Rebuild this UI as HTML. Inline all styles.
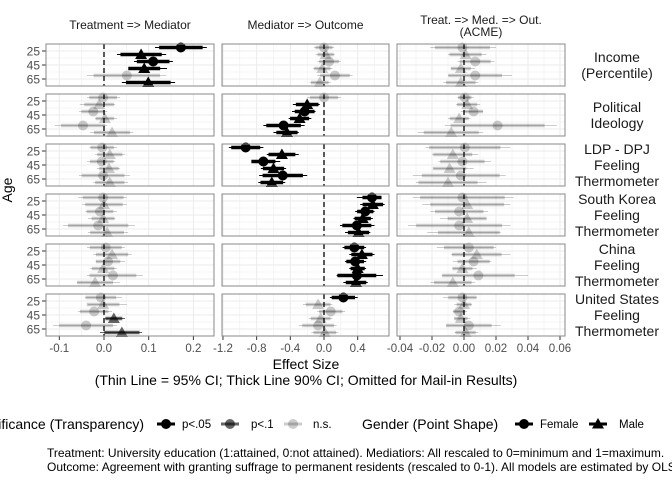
<!DOCTYPE html>
<html><head><meta charset="utf-8"><style>
body{margin:0;background:#fff;}
svg{display:block;font-family:"Liberation Sans",sans-serif;}
</style></head><body>
<svg id="chart" width="672" height="480" viewBox="0 0 672 480">
<text x="306" y="369" font-size="14" text-anchor="middle">Effect Size</text>
<text x="306" y="385" font-size="14" text-anchor="middle">(Thin Line = 95% CI; Thick Line 90% CI; Omitted for Mail-in Results)</text>
<g id="panels"></g>
<text x="12" y="190" font-size="14" text-anchor="middle" transform="rotate(-90 12 190)">Age</text>
<g font-size="11.5">
<text x="144" y="429" font-size="14" text-anchor="end">Significance (Transparency)</text>
<g><line x1="157" x2="175" y1="424" y2="424" stroke="#000" stroke-width="3"/><circle cx="166" cy="424" r="5" fill="#000"/><text x="182" y="428">p&lt;.05</text></g>
<g><line x1="221" x2="239" y1="424" y2="424" stroke="#000" stroke-opacity="0.6" stroke-width="3"/><circle cx="230" cy="424" r="5" fill="#000" fill-opacity="0.6"/><text x="251" y="428">p&lt;.1</text></g>
<g><line x1="284" x2="302" y1="424" y2="424" stroke="#000" stroke-opacity="0.2" stroke-width="3"/><circle cx="293" cy="424" r="5" fill="#000" fill-opacity="0.2"/><text x="313" y="428">n.s.</text></g>
<text x="362" y="429" font-size="14">Gender (Point Shape)</text>
<g><line x1="515" x2="533" y1="424" y2="424" stroke="#000" stroke-width="3"/><circle cx="524" cy="424" r="5" fill="#000"/><text x="540" y="428">Female</text></g>
<g><line x1="589" x2="607" y1="424" y2="424" stroke="#000" stroke-width="3"/><polygon points="598,418 604,428.5 592,428.5" fill="#000"/><text x="619" y="428">Male</text></g>
</g>
<text x="47" y="457" font-size="12">Treatment: University education (1:attained, 0:not attained). Mediatiors: All rescaled to 0=minimum and 1=maximum.</text>
<text x="47" y="471" font-size="12">Outcome: Agreement with granting suffrage to permanent residents (rescaled to 0-1). All models are estimated by OLS.</text>
</svg>
<script>
const colTitles=[["Treatment => Mediator"],["Mediator => Outcome"],["Treat. => Med. => Out.","(ACME)"]];
const rowTitles=[["Income","(Percentile)"],["Political","Ideology"],["LDP - DPJ","Feeling","Thermometer"],["South Korea","Feeling","Thermometer"],["China","Feeling","Thermometer"],["United States","Feeling","Thermometer"]];
const ageTicks=["25","45","65"];
// order per row: F25, M25, F45, M45, F65, M65
const genders=["F","M","F","M","F","M"];
const ages=[25,25,45,45,65,65];
const tickVals1=[-0.1,0,0.1,0.2];
const tickLabels1=["-0.1","0.0","0.1","0.2"];
const tickVals2=[-1.2,-0.8,-0.4,0,0.4];
const tickLabels2=["-1.2","-0.8","-0.4","0.0","0.4"];
const tickVals3=[-0.04,-0.02,0,0.02,0.04,0.06];
const tickLabels3=["-0.04","-0.02","0.00","0.02","0.04","0.06"];
// col1: Treatment => Mediator
const est1=[[0.172,0.083,0.11,0.09,0.051,0.099],[-0.002,-0.011,-0.024,0.002,-0.047,0.018],[-0.004,0.013,-0.005,0.011,-0.002,0.013],[-0.002,0.0,-0.009,-0.002,-0.013,0.007],[0.004,0.018,0.009,-0.002,0.02,-0.02],[-0.007,-0.002,-0.022,0.022,-0.04,0.04]];
const lo1=[[0.114,0.029,0.067,0.056,-0.038,0.04],[-0.038,-0.054,-0.056,-0.02,-0.11,-0.031],[-0.033,-0.02,-0.038,-0.016,-0.056,-0.024],[-0.058,-0.049,-0.042,-0.036,-0.092,-0.036],[-0.038,-0.024,-0.018,-0.031,-0.038,-0.06],[-0.042,-0.036,-0.058,0.002,-0.114,-0.009]];
const hi1=[[0.23,0.139,0.154,0.141,0.139,0.159],[0.036,0.025,0.007,0.029,0.007,0.065],[0.029,0.047,0.025,0.036,0.058,0.054],[0.051,0.051,0.029,0.025,0.069,0.054],[0.047,0.062,0.047,0.029,0.087,0.036],[0.04,0.051,0.018,0.047,0.029,0.085]];
const sig1=[[2,2,2,2,0,2],[0,0,0,0,0,0],[0,0,0,0,0,0],[0,0,0,0,0,0],[0,0,0,0,0,0],[0,0,0,1,0,1]];
// col2: Mediator => Outcome
const est2=[[0,0.02,0.06,-0.02,0.13,-0.05],[0,-0.2,-0.23,-0.29,-0.48,-0.44],[-0.93,-0.5,-0.72,-0.6,-0.49,-0.62],[0.57,0.58,0.49,0.46,0.39,0.41],[0.36,0.45,0.37,0.4,0.39,0.38],[0.23,-0.07,0.08,-0.04,-0.07,0.01]];
const lo2=[[-0.12,-0.1,-0.08,-0.13,-0.08,-0.17],[-0.2,-0.37,-0.38,-0.42,-0.72,-0.6],[-1.13,-0.68,-0.86,-0.75,-0.77,-0.78],[0.39,0.43,0.37,0.35,0.19,0.25],[0.22,0.3,0.25,0.3,0.15,0.23],[0.07,-0.25,-0.08,-0.18,-0.3,-0.15]];
const hi2=[[0.12,0.13,0.2,0.1,0.34,0.08],[0.2,-0.05,-0.1,-0.15,-0.23,-0.3],[-0.72,-0.3,-0.52,-0.45,-0.2,-0.46],[0.66,0.72,0.6,0.58,0.6,0.55],[0.5,0.6,0.5,0.5,0.7,0.52],[0.4,0.1,0.25,0.1,0.15,0.17]];
const sig2=[[0,0,0,0,0,0],[0,2,2,2,2,2],[2,2,2,2,2,2],[2,2,2,2,2,2],[2,2,2,2,2,2],[2,0,0,0,0,0]];
// col3: ACME
const est3=[[-0.001,0.001,0.007,-0.002,0.007,-0.002],[0.0005,0.002,0.006,-0.003,0.021,-0.008],[0.0005,-0.007,-0.001,-0.009,-0.002,-0.01],[-0.001,0.002,-0.003,0.002,-0.003,0.003],[0.003,0.008,0.006,-0.001,0.009,-0.007],[-0.001,0.0,-0.003,-0.002,0.003,0.001]];
const lo3=[[-0.021,-0.01,-0.004,-0.008,-0.01,-0.013],[-0.004,-0.005,-0.002,-0.01,-0.012,-0.029],[-0.024,-0.02,-0.016,-0.019,-0.032,-0.03],[-0.032,-0.026,-0.021,-0.015,-0.035,-0.023],[-0.017,-0.008,-0.007,-0.007,-0.014,-0.021],[-0.013,-0.006,-0.007,-0.006,-0.011,-0.006]];
const hi3=[[0.02,0.014,0.019,0.007,0.03,0.009],[0.006,0.01,0.012,0.004,0.058,0.012],[0.029,0.009,0.017,0.006,0.026,0.014],[0.031,0.029,0.015,0.014,0.029,0.023],[0.02,0.029,0.017,0.008,0.04,0.007],[0.008,0.005,0.002,0.004,0.023,0.009]];
const sig3=[[0,0,0,0,0,0],[0,0,0,0,0,0],[0,0,0,0,0,0],[0,0,0,0,0,0],[0,0,0,0,0,0],[0,0,0,0,0,0]];

const NS="http://www.w3.org/2000/svg";
const panelsG=document.getElementById('panels');
const colX=[46,222,397], colW=[168,167,168];
const rowY=[44,94,144,194,244,294], rowH=42;
const scales=[[104,447],[324,84.2],[464,1600]];
const ests=[est1,est2,est3], los=[lo1,lo2,lo3], his=[hi1,hi2,hi3], sigs=[sig1,sig2,sig3];
const ticks=[tickVals1,tickVals2,tickVals3], tickLabs=[tickLabels1,tickLabels2,tickLabels3];
const alpha=[0.2,0.6,1];
function el(tag,attrs,parent){const e=document.createElementNS(NS,tag);for(const k in attrs)e.setAttribute(k,attrs[k]);parent.appendChild(e);return e;}
function xs(c,v){return scales[c][0]+v*scales[c][1];}
function ys(r,age){return rowY[r]+7+(age-25)*0.7;}

for(let c=0;c<3;c++){
  const t=el('text',{x:colX[c]+colW[c]/2,'font-size':12,'text-anchor':'middle',fill:'#1a1a1a'},panelsG);
  
  
  const lines=colTitles[c];
  lines.forEach((s,i)=>{const ts=el('tspan',{x:colX[c]+colW[c]/2,y:(lines.length===1?29:24)+i*12},t);ts.textContent=s;});
  const tv=ticks[c];
  for(let i=0;i<tv.length;i++){
    const x=xs(c,tv[i]);
    el('line',{x1:x,x2:x,y1:336,y2:340,stroke:'#333','stroke-width':1},panelsG);
    const tl=el('text',{x:x,y:352,'font-size':11.5,'text-anchor':'middle',fill:'#4d4d4d'},panelsG);
    
    
    tl.textContent=tickLabs[c][i];
  }
}
for(let r=0;r<6;r++){
  const lines=rowTitles[r];
  const t=el('text',{'font-size':14,'text-anchor':'middle',fill:'#1a1a1a'},panelsG);
  
  
  const cy=rowY[r]+rowH/2, n=lines.length;
  lines.forEach((s,i)=>{const ts=el('tspan',{x:617,y:cy+5+(i-(n-1)/2)*16},t);ts.textContent=s;});
  ageTicks.forEach((a,i)=>{
    const y=ys(r,+a);
    el('line',{x1:42,x2:46,y1:y,y2:y,stroke:'#333'},panelsG);
    const tl=el('text',{x:40,y:y+4.5,'font-size':12,'text-anchor':'end',fill:'#4d4d4d'},panelsG);
    
    
    tl.textContent=a;
  });
  for(let c=0;c<3;c++){
    const g=el('g',{},panelsG);
    
    
    const x0=colX[c], x1=colX[c]+colW[c], y0=rowY[r], y1=rowY[r]+rowH;
    const tv=ticks[c], step=tv[1]-tv[0];
    for(let i=-2;i<=2*tv.length+2;i++){
      const v=tv[0]+i*step/2;
      const x=xs(c,v); if(x<x0||x>x1) continue;
      el('line',{x1:x,x2:x,y1:y0,y2:y1,stroke:'#ebebeb','stroke-width':i%2===0?1:0.5},g);
    }
    [25,35,45,55,65].forEach((a,i)=>{const y=ys(r,a);el('line',{x1:x0,x2:x1,y1:y,y2:y,stroke:'#ebebeb','stroke-width':i%2?0.5:1},g);});
    const zx=xs(c,0);
    el('line',{x1:zx,x2:zx,y1:y0,y2:y1,stroke:'#000','stroke-width':1.3,'stroke-dasharray':'5,3'},g);
    for(let k=0;k<6;k++){
      const e=ests[c][r][k], lo=los[c][r][k], hi=his[c][r][k], a=alpha[sigs[c][r][k]];
      const y=ys(r,ages[k])+(genders[k]==='F'?-3.5:3.5);
      const h90=(hi-lo)/2*1.645/1.96;
      const thin=el('line',{x1:xs(c,lo),x2:xs(c,hi),y1:y,y2:y,stroke:'#000','stroke-opacity':a,'stroke-width':1},g);
      
      
      const thick=el('line',{x1:xs(c,e-h90),x2:xs(c,e+h90),y1:y,y2:y,stroke:'#000','stroke-opacity':a,'stroke-width':3.5},g);
      
      
      const px=xs(c,e);
      let m;
      if(genders[k]==='F') m=el('circle',{cx:px,cy:y,r:5,fill:'#000','fill-opacity':a},g);
      else m=el('polygon',{points:`${px},${y-6} ${px+6},${y+4.5} ${px-6},${y+4.5}`,fill:'#000','fill-opacity':a},g);
      
      
    }
    el('rect',{x:x0,y:y0,width:colW[c],height:rowH,fill:'none',stroke:'#888','stroke-width':1},g);
  }
}
</script>
</body></html>
